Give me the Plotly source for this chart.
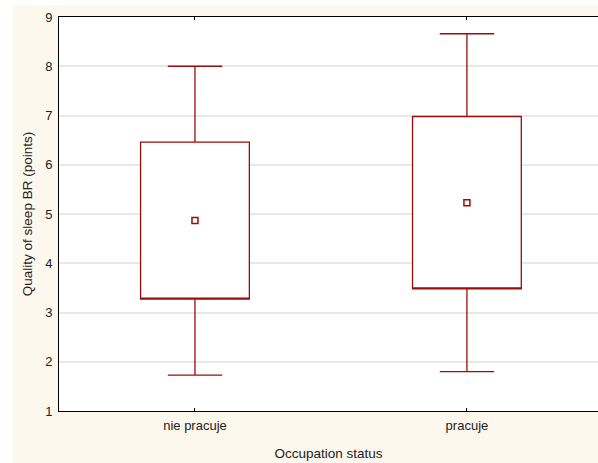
import plotly.graph_objects as go

categories = ["nie pracuje", "pracuje"]
means = [4.87, 5.23]
box_low = [3.27, 3.48]
box_high = [6.46, 6.98]
whisk_low = [1.73, 1.80]
whisk_high = [8.00, 8.66]
y_ticks = [1, 2, 3, 4, 5, 6, 7, 8, 9]

RED = "#9a0d0d"
BEIGE = "#fdf8ee"
FONT = "Liberation Sans, Arial, sans-serif"

W, H = 598, 463
L, R, T, B = 59, 0, 17, 52

fig = go.Figure()
fig.add_trace(go.Box(
    x=categories, q1=box_low, median=box_low, q3=box_high,
    lowerfence=whisk_low, upperfence=whisk_high,
    width=0.4, whiskerwidth=0.5, fillcolor="white",
    line=dict(color=RED, width=1.3), boxpoints=False,
    hoverinfo="skip", showlegend=False,
))
fig.add_trace(go.Scatter(
    x=categories, y=means, mode="markers",
    marker=dict(symbol="square-open", size=6, color=RED, line=dict(width=1.5, color=RED)),
    showlegend=False, hoverinfo="skip",
))

pw = W - L - R
ph = H - T - B
# white strips at left and top outside of the beige area
fig.add_shape(type="rect", xref="paper", yref="paper",
              x0=-L / pw, x1=(13 - L) / pw, y0=-B / ph, y1=(H - B) / ph,
              fillcolor="white", line=dict(width=0), layer="below")
fig.add_shape(type="rect", xref="paper", yref="paper",
              x0=-L / pw, x1=1, y0=(H - B - 5) / ph, y1=(H - B) / ph,
              fillcolor="white", line=dict(width=0), layer="below")

fig.update_layout(
    width=W, height=H,
    margin=dict(l=L, r=R, t=T, b=B, pad=0),
    paper_bgcolor=BEIGE, plot_bgcolor="white",
    font=dict(family=FONT, size=13, color="#222222"),
    xaxis=dict(
        type="category", range=[-0.5, 1.482],
        showline=True, linecolor="black", linewidth=1, mirror="ticks",
        ticks="inside", ticklen=3, tickcolor="black",
        showgrid=False, zeroline=False, ticklabelstandoff=2,
        title=dict(text="Occupation status", standoff=16, font=dict(size=13.5)),
        tickfont=dict(size=13),
    ),
    yaxis=dict(
        range=[1, 9], tickvals=y_ticks,
        showline=True, linecolor="black", linewidth=1,
        ticks="", showgrid=True, gridcolor="#e8e8e8", gridwidth=1.5,
        zeroline=False, ticklabelstandoff=3,
        title=dict(text="Quality of sleep BR (points)", standoff=9, font=dict(size=13.5)),
        tickfont=dict(size=13),
    ),
)

fig.write_html(
    "out.html",
    config={"displayModeBar": False},
    post_script=(
        "document.body.style.margin='0';"
        "document.body.style.overflow='hidden';"
        "document.body.style.background='" + BEIGE + "';"
        "document.documentElement.style.background='" + BEIGE + "';"
    ),
)
